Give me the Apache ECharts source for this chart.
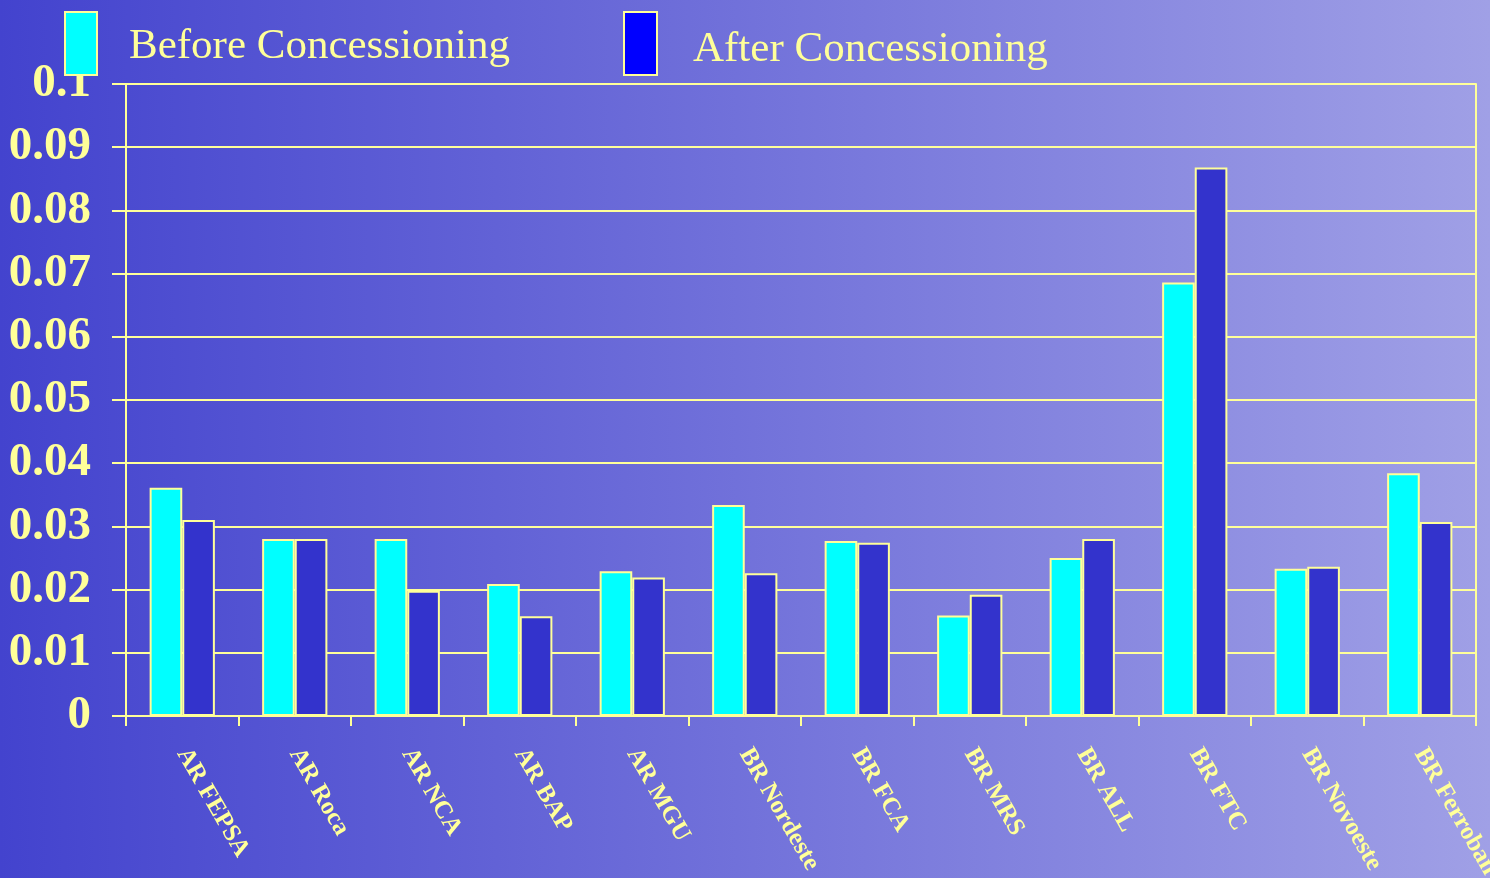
<!DOCTYPE html>
<html>
<head>
<meta charset="utf-8">
<script src="https://cdn.jsdelivr.net/npm/echarts@6/dist/echarts.min.js"></script>
<style>
  html, body { margin: 0; padding: 0; }
  #chart { width: 1490px; height: 878px; }
</style>
</head>
<body>
<div id="chart"></div>
<script>
var categories = ['AR FEPSA', 'AR Roca', 'AR NCA', 'AR BAP', 'AR MGU', 'BR Nordeste',
                  'BR FCA', 'BR MRS', 'BR ALL', 'BR FTC', 'BR Novoeste', 'BR Ferroban'];
var before = [0.0361, 0.0280, 0.0280, 0.0209, 0.0229, 0.0334, 0.0277, 0.0159, 0.0250, 0.0686, 0.0233, 0.0384];
var after  = [0.0310, 0.0280, 0.0198, 0.0158, 0.0219, 0.0226, 0.0274, 0.0192, 0.0280, 0.0868, 0.0236, 0.0307];

var yellow = '#FFFF99';
var serif = '"Liberation Serif", "Times New Roman", serif';

var myChart = echarts.init(document.getElementById('chart'));

var option = {
    backgroundColor: {
        type: 'linear', x: 0, y: 0, x2: 1, y2: 0,
        colorStops: [
            { offset: 0, color: '#4343CE' },
            { offset: 1, color: '#A0A0E6' }
        ]
    },
    animation: false,
    legend: [
        {
            left: 64, top: 11, padding: 0,
            itemWidth: 32, itemHeight: 63,
            icon: 'rect',
            data: [{ name: 'Before Concessioning', itemStyle: { color: '#00FFFF', borderColor: yellow, borderWidth: 2 } }],
            formatter: '{t|{name}}',
            textStyle: {
                color: yellow,
                rich: { t: { color: yellow, fontFamily: serif, fontSize: 43, padding: [7, 0, 0, 27] } }
            }
        },
        {
            left: 623, top: 11, padding: 0,
            itemWidth: 33, itemHeight: 63,
            icon: 'rect',
            data: [{ name: 'After Concessioning', itemStyle: { color: '#0000FF', borderColor: yellow, borderWidth: 2 } }],
            formatter: '{t|{name}}',
            textStyle: {
                color: yellow,
                rich: { t: { color: yellow, fontFamily: serif, fontSize: 43, padding: [12, 0, 0, 31] } }
            }
        }
    ],
    grid: { left: 126, right: 14, top: 84, bottom: 162, outerBoundsMode: 'none', containLabel: false },
    xAxis: {
        type: 'category',
        data: categories,
        axisLine: { lineStyle: { color: yellow, width: 2 } },
        axisTick: { show: true, length: 10, lineStyle: { color: yellow, width: 2 } },
        axisLabel: {
            rotate: -60,
            margin: 34,
            interval: 0,
            color: yellow,
            fontFamily: serif,
            fontWeight: 'bold',
            fontSize: 25
        }
    },
    yAxis: [
        {
            type: 'value',
            min: 0, max: 0.1, interval: 0.01,
            axisLine: { show: true, lineStyle: { color: yellow, width: 2 } },
            axisTick: { show: true, length: 14, lineStyle: { color: yellow, width: 2 } },
            splitLine: { lineStyle: { color: yellow, width: 2 } },
            axisLabel: {
                margin: 35,
                color: yellow,
                fontFamily: serif,
                fontWeight: 'bold',
                fontSize: 47,
                formatter: function (v) { return String(+v.toFixed(2)); }
            }
        },
        {
            type: 'value',
            position: 'right',
            min: 0, max: 0.1, interval: 0.01,
            axisLine: { show: true, lineStyle: { color: yellow, width: 2 } },
            axisTick: { show: false },
            axisLabel: { show: false },
            splitLine: { show: false }
        }
    ],
    series: [
        {
            name: 'Before Concessioning',
            type: 'bar',
            data: before,
            barWidth: '29%',
            barGap: '0%',
            itemStyle: { color: '#00FFFF', borderColor: yellow, borderWidth: 2 }
        },
        {
            name: 'After Concessioning',
            type: 'bar',
            data: after,
            barWidth: '29%',
            barGap: '0%',
            itemStyle: { color: '#3333CC', borderColor: yellow, borderWidth: 2 }
        }
    ]
};

myChart.setOption(option);
</script>
</body>
</html>
